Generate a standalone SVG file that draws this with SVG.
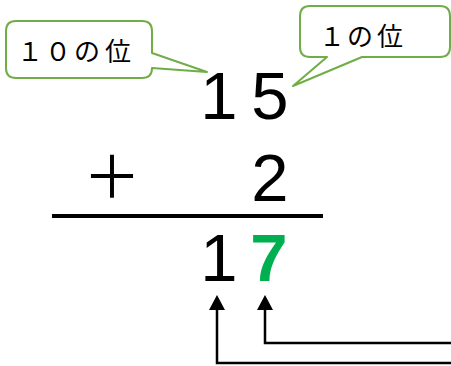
<svg xmlns="http://www.w3.org/2000/svg" width="451" height="366" viewBox="0 0 451 366">
<defs>
<style>
.callout{fill:#fff;stroke:#70AD47;stroke-width:2;stroke-linejoin:round}
.lbl{font-family:"Noto Sans CJK JP","Noto Sans",sans-serif;font-size:26px;fill:#000;text-anchor:middle}
.dig{font-family:"Liberation Sans","Noto Sans",sans-serif;font-size:67px;fill:#000;text-anchor:middle}
.conn{fill:none;stroke:#000;stroke-width:2.5}
</style>
</defs>
<rect width="451" height="366" fill="#fff"/>
<g id="callout-tens">
<path class="callout" d="M16,21 H142 Q152,21 152,31 V53 L207,72 L152,68 Q152,78 142,78 H16 Q6,78 6,68 V31 Q6,21 16,21 Z"/>
<text class="lbl" y="61"><tspan x="30">１</tspan><tspan x="58">０</tspan><tspan x="87">の</tspan><tspan x="118">位</tspan></text>
</g>
<g id="callout-ones">
<path class="callout" d="M310,6 H440 Q450,6 450,16 V47 Q450,57 440,57 H362 L293,86 L327,57 H310 Q300,57 300,47 V16 Q300,6 310,6 Z"/>
<text class="lbl" y="46"><tspan x="332">１</tspan><tspan x="360">の</tspan><tspan x="390">位</tspan></text>
</g>
<g id="addend1">
<text class="dig" x="219" y="119">1</text>
<text class="dig" x="270" y="119">5</text>
</g>
<g id="addend2">
<text x="112" y="198" style="font-family:'Noto Sans CJK JP',sans-serif;font-size:58px;text-anchor:middle">＋</text>
<text class="dig" x="270" y="201">2</text>
</g>
<g id="rule"><line x1="52" y1="216" x2="323" y2="216" stroke="#000" stroke-width="4"/></g>
<g id="sum">
<text class="dig" x="219" y="281">1</text>
<text class="dig" x="269" y="281" style="fill:#00B050;font-weight:bold">7</text>
</g>
<g id="connectors">
<path class="conn" d="M451,363 H217 V310"/>
<path d="M209,310 L217,295 L225,310 Z" fill="#000"/>
<path class="conn" d="M451,343 H265 V310"/>
<path d="M257,310 L265,295 L273,310 Z" fill="#000"/>
</g>
</svg>
